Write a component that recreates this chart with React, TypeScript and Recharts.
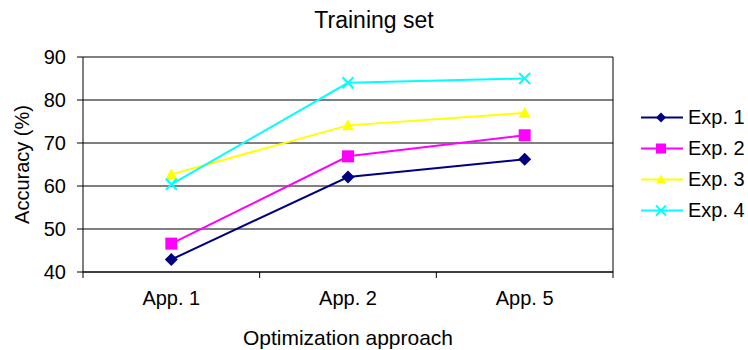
import { CartesianGrid, Legend, Line, LineChart, XAxis, YAxis } from 'recharts';

const FONT = '"Liberation Sans", Arial, sans-serif';

const CATEGORIES = ['App. 1', 'App. 2', 'App. 5'];
const EXP1 = [42.9, 62.1, 66.2];
const EXP2 = [46.6, 66.9, 71.8];
const EXP3 = [62.7, 74.1, 77.0];
const EXP4 = [60.4, 84.0, 85.0];
const Y_TICKS = [40, 50, 60, 70, 80, 90];

const SERIES = [
    { key: 'exp1', name: 'Exp. 1', values: EXP1, color: '#000080', shape: 'diamond' },
    { key: 'exp2', name: 'Exp. 2', values: EXP2, color: '#ff00ff', shape: 'square' },
    { key: 'exp3', name: 'Exp. 3', values: EXP3, color: '#ffff00', shape: 'triangle' },
    { key: 'exp4', name: 'Exp. 4', values: EXP4, color: '#00ffff', shape: 'x' },
];

// categories sit in the middle of each band, band edges carry the tick marks
const data = CATEGORIES.map((name, i) => {
    const row: Record<string, number | string> = { pos: i + 0.5, name };
    SERIES.forEach((s) => {
        row[s.key] = s.values[i];
    });
    return row;
});
const X_TICKS = [0, 0.5, 1, 1.5, 2, 2.5, 3];

const Marker = ({ shape, cx, cy, size, color }: any) => {
    const h = size / 2;
    if (shape === 'diamond') {
        return <polygon points={`${cx},${cy - h} ${cx + h},${cy} ${cx},${cy + h} ${cx - h},${cy}`} fill={color} />;
    }
    if (shape === 'square') {
        return <rect x={cx - h} y={cy - h} width={size} height={size} fill={color} />;
    }
    if (shape === 'triangle') {
        return <polygon points={`${cx},${cy - h} ${cx + h},${cy + h * 0.8} ${cx - h},${cy + h * 0.8}`} fill={color} />;
    }
    return (
        <g stroke={color} strokeWidth={2}>
            <line x1={cx - h} y1={cy - h} x2={cx + h} y2={cy + h} />
            <line x1={cx - h} y1={cy + h} x2={cx + h} y2={cy - h} />
        </g>
    );
};

const XTick = ({ x, y, payload }: any) => {
    const v = payload.value;
    if (Number.isInteger(v)) {
        return <line x1={x} y1={y} x2={x} y2={y + 6} stroke="#000" />;
    }
    return (
        <text x={x} y={y + 33} textAnchor="middle" fontSize={20} fontFamily={FONT} fill="#000">
            {CATEGORIES[Math.floor(v)]}
        </text>
    );
};

const YLabel = ({ viewBox }: any) => {
    const cx = viewBox.x + 22;
    const cy = viewBox.y + viewBox.height / 2;
    return (
        <text
            x={cx}
            y={cy}
            transform={`rotate(-90 ${cx} ${cy})`}
            textAnchor="middle"
            dominantBaseline="central"
            fontSize={20}
            fontFamily={FONT}
            fill="#000"
        >
            Accuracy (%)
        </text>
    );
};

const renderLegend = () => (
    <div style={{ fontFamily: FONT, fontSize: 20, color: '#000' }}>
        {SERIES.map((s) => (
            <div key={s.key} style={{ display: 'flex', alignItems: 'center', height: 31 }}>
                <svg width={47} height={31}>
                    <line x1={0} y1={15.5} x2={42} y2={15.5} stroke={s.color} strokeWidth={2} />
                    <Marker shape={s.shape} cx={20} cy={15.5} size={10} color={s.color} />
                </svg>
                <span style={{ whiteSpace: 'nowrap' }}>{s.name}</span>
            </div>
        ))}
    </div>
);

export default function App() {
    return (
        <div style={{ position: 'absolute', left: 0, top: 0, width: 748, height: 350, background: '#fff' }}>
            <div
                style={{
                    position: 'absolute',
                    left: 0,
                    top: 9,
                    width: 748,
                    textAlign: 'center',
                    fontFamily: FONT,
                    fontSize: 23,
                    lineHeight: '23px',
                    color: '#000',
                }}
            >
                Training set
            </div>
            <LineChart width={748} height={350} data={data} margin={{ top: 57, right: 135, bottom: 0, left: 0 }}>
                <CartesianGrid
                    stroke="#000"
                    verticalCoordinatesGenerator={({ offset }: any) => [offset.left + offset.width]}
                />
                <XAxis
                    dataKey="pos"
                    type="number"
                    domain={[0, 3]}
                    ticks={X_TICKS}
                    interval={0}
                    height={78}
                    tickSize={0}
                    tickMargin={0}
                    tickLine={false}
                    axisLine={{ stroke: '#000' }}
                    tick={<XTick />}
                    label={{
                        value: 'Optimization approach',
                        position: 'insideBottom',
                        offset: 5,
                        fontSize: 21,
                        fontFamily: FONT,
                        fill: '#000',
                    }}
                />
                <YAxis
                    width={83}
                    domain={[40, 90]}
                    ticks={Y_TICKS}
                    interval={0}
                    tickSize={6}
                    tickMargin={11}
                    tickLine={{ stroke: '#000' }}
                    axisLine={{ stroke: '#000' }}
                    tick={{ fontSize: 20, fontFamily: FONT, fill: '#000' }}
                    label={<YLabel />}
                />
                <Legend
                    layout="vertical"
                    align="center"
                    verticalAlign="middle"
                    content={renderLegend}
                    wrapperStyle={{ left: 641, top: 102, width: 107 }}
                />
                {SERIES.map((s) => (
                    <Line
                        key={s.key}
                        dataKey={s.key}
                        name={s.name}
                        type="linear"
                        stroke={s.color}
                        strokeWidth={2}
                        isAnimationActive={false}
                        dot={(p: any) => (
                            <Marker
                                key={`${s.key}-${p.index}`}
                                shape={s.shape}
                                cx={p.cx}
                                cy={p.cy}
                                size={s.shape === 'diamond' ? 13 : s.shape === 'x' ? 11 : 12}
                                color={s.color}
                            />
                        )}
                        activeDot={false}
                    />
                ))}
            </LineChart>
        </div>
    );
}
